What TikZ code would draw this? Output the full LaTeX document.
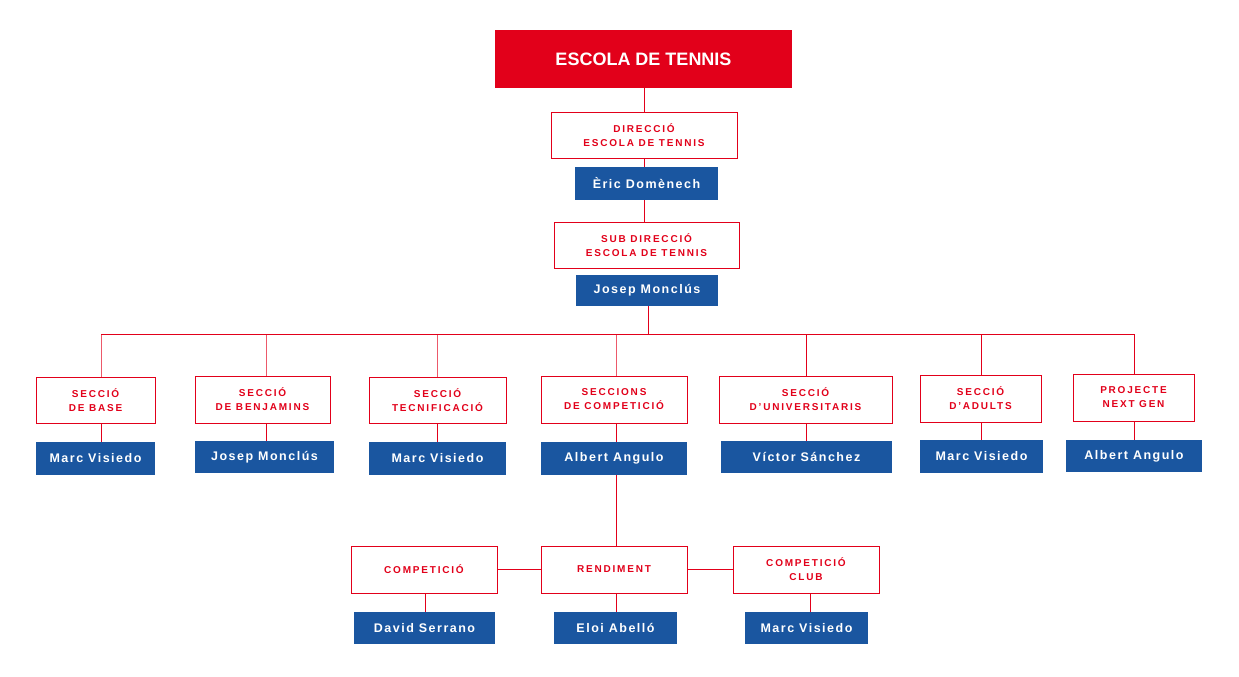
\documentclass[tikz,border=0pt]{standalone}
\usepackage{fontspec}
\setmainfont{Liberation Sans}
\newfontfamily\redf[LetterSpace=18]{Liberation Sans}
\newfontfamily\bluef[LetterSpace=12]{Liberation Sans}
\definecolor{cred}{HTML}{E2001A}
\definecolor{cblue}{HTML}{1A56A0}
\newcommand{\bx}[7]{\node[#6, minimum width={#4-#2}, minimum height={#5-#3}] (#1) at ({(#2+#4)/2},{(#3+#5)/2}) {#7};}
\begin{document}
\begin{tikzpicture}[x=1pt,y=-1pt,
 rbox/.style={draw=cred, line width=0.8pt, fill=white, text=cred, font=\redf\bfseries\fontsize{10}{14}\selectfont, align=center, inner sep=0pt},
 bbox/.style={fill=cblue, text=white, font=\bluef\bfseries\fontsize{12.5}{15}\selectfont, inner sep=0pt},
 ln/.style={draw=cred, line width=0.8pt}]
\path[use as bounding box] (0,0) rectangle (1239,677);
% connectors first
\bx{title}{495}{30}{792}{88}{fill=cred,text=white,font=\bfseries\fontsize{18}{20}\selectfont,inner sep=0pt}{ESCOLA DE TENNIS}
\coordinate (hl) at (101,334); \coordinate (hr) at (1134,334); \coordinate (hm) at (648,334);
\draw[ln] (hl) -- (hr);
\draw[ln] (644,88) -- (644,222);
\draw[ln] (648,306) -- (hm);
\foreach \x in {101,266,437,616,806,981,1134}{\draw[ln] (\x,334) -- (\x,377) -- (\x,442);}
\draw[ln] (616,475) -- (616,546);
\draw[ln] (425,569) -- (810,569);
\draw[ln] (425,593) -- (425,612);
\draw[ln] (616,593) -- (616,612);
\draw[ln] (810,593) -- (810,612);
\bx{dir}{551}{112}{737}{158}{rbox}{DIRECCIÓ\\ESCOLA DE TENNIS}
\bx{dirn}{575}{167}{718}{200}{bbox}{Èric Domènech}
\bx{sub}{554}{222}{739}{268}{rbox}{SUB DIRECCIÓ\\ESCOLA DE TENNIS}
\bx{subn}{576}{275}{718}{306}{bbox}{Josep Monclús}
\bx{s1}{36}{377}{155}{423}{rbox}{SECCIÓ\\DE BASE}
\bx{n1}{36}{442}{155}{475}{bbox}{Marc Visiedo}
\bx{s2}{195}{376}{330}{423}{rbox}{SECCIÓ\\DE BENJAMINS}
\bx{n2}{195}{441}{334}{473}{bbox}{Josep Monclús}
\bx{s3}{369}{377}{506}{423}{rbox}{SECCIÓ\\TECNIFICACIÓ}
\bx{n3}{369}{442}{506}{475}{bbox}{Marc Visiedo}
\bx{s4}{541}{376}{687}{423}{rbox}{SECCIONS\\DE COMPETICIÓ}
\bx{n4}{541}{442}{687}{475}{bbox}{Albert Angulo}
\bx{s5}{719}{376}{892}{423}{rbox}{SECCIÓ\\D’UNIVERSITARIS}
\bx{n5}{721}{441}{892}{473}{bbox}{Víctor Sánchez}
\bx{s6}{920}{375}{1041}{422}{rbox}{SECCIÓ\\D’ADULTS}
\bx{n6}{920}{440}{1043}{473}{bbox}{Marc Visiedo}
\bx{s7}{1073}{374}{1194}{421}{rbox}{PROJECTE\\NEXT GEN}
\bx{n7}{1066}{440}{1202}{472}{bbox}{Albert Angulo}
\bx{c1}{351}{546}{497}{593}{rbox}{COMPETICIÓ}
\bx{c1n}{354}{612}{495}{644}{bbox}{David Serrano}
\bx{c2}{541}{546}{687}{593}{rbox}{RENDIMENT}
\bx{c2n}{554}{612}{677}{644}{bbox}{Eloi Abelló}
\bx{c3}{733}{546}{879}{593}{rbox}{COMPETICIÓ\\CLUB}
\bx{c3n}{745}{612}{868}{644}{bbox}{Marc Visiedo}
\end{tikzpicture}
\end{document}
